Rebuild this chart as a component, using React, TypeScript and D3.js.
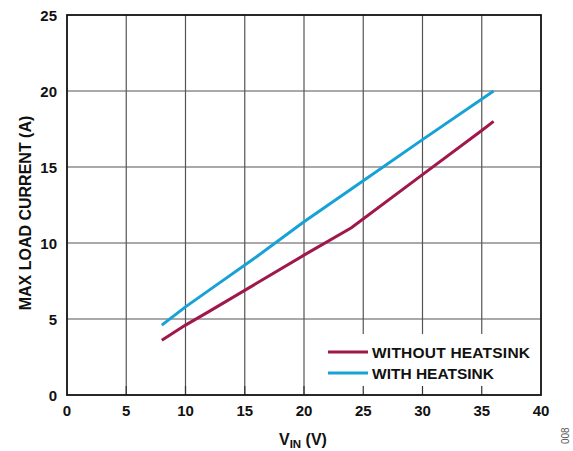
import React from "react";
import * as d3 from "d3";

const xTicks = [0, 5, 10, 15, 20, 25, 30, 35, 40];
const yTicks = [0, 5, 10, 15, 20, 25];

const withoutVin = [8, 10, 12, 16, 20, 24, 30, 35, 36];
const withoutAmp = [3.6, 4.6, 5.5, 7.35, 9.2, 11.0, 14.5, 17.4, 18.0];

const withVin = [8, 10, 12, 16, 20, 25, 30, 36];
const withAmp = [4.6, 5.8, 6.9, 9.1, 11.4, 14.1, 16.8, 20.0];

const seriesNames = ["WITHOUT HEATSINK", "WITH HEATSINK"];
const colors = ["#A0174B", "#16A2D4"];

const W = 573, H = 451;
const L = 67, R = 541, T = 15, B = 395;

export default function App() {
  const x = d3.scaleLinear().domain([0, 40]).range([L, R]);
  const y = d3.scaleLinear().domain([0, 25]).range([B, T]);
  const line = d3.line<[number, number]>().x(d => x(d[0])).y(d => y(d[1]));
  const s1 = line(withoutVin.map((v, i) => [v, withoutAmp[i]]) as [number, number][]) || "";
  const s2 = line(withVin.map((v, i) => [v, withAmp[i]]) as [number, number][]) || "";
  const font = "'Liberation Sans', Arial, sans-serif";
  const legX = 312, legY = 334;
  return (
    <svg width={W} height={H} style={{ position: "absolute", left: 0, top: 0, background: "#fff" }} fontFamily={font}>
      <rect x={0} y={0} width={W} height={H} fill="#fff" />
      {xTicks.slice(1, -1).map(t => (
        <line key={"gx" + t} x1={x(t)} x2={x(t)} y1={T} y2={B} stroke="#555" strokeWidth={1.2} />
      ))}
      {yTicks.slice(1, -1).map(t => (
        <line key={"gy" + t} x1={L} x2={R} y1={y(t)} y2={y(t)} stroke="#555" strokeWidth={1.2} />
      ))}
      <rect x={legX} y={legY} width={R - legX} height={B - legY} fill="#fff" />
      {xTicks.slice(1, -1).map(t => (
        <line key={"tx" + t} x1={x(t)} x2={x(t)} y1={B - 9} y2={B} stroke="#333" strokeWidth={1.2} />
      ))}
      <path d={s1} fill="none" stroke={colors[0]} strokeWidth={3} />
      <path d={s2} fill="none" stroke={colors[1]} strokeWidth={3} />
      <rect x={L} y={T} width={R - L} height={B - T} fill="none" stroke="#111" strokeWidth={1.8} />
      {xTicks.map(t => (
        <text key={"lx" + t} x={x(t)} y={416} textAnchor="middle" fontSize={15} fontWeight="bold" fill="#111">{t}</text>
      ))}
      {yTicks.map(t => (
        <text key={"ly" + t} x={57} y={y(t) + 6} textAnchor="end" fontSize={15} fontWeight="bold" fill="#111">{t}</text>
      ))}
      {seriesNames.map((n, i) => (
        <g key={n}>
          <line x1={328} x2={368} y1={352 + i * 21} y2={352 + i * 21} stroke={colors[i]} strokeWidth={3} />
          <text x={372} y={358 + i * 20.5} fontSize={15.5} fontWeight="bold" fill="#111" textLength={i === 0 ? 158 : undefined}>{n}</text>
        </g>
      ))}
      <text x={279} y={445} fontSize={16} fontWeight="bold" fill="#111">
        V<tspan fontSize={11.5} dy={3}>IN</tspan><tspan dy={-3}> (V)</tspan>
      </text>
      <text transform={`translate(31,213) rotate(-90)`} textAnchor="middle" fontSize={16} fontWeight="bold" fill="#111">MAX LOAD CURRENT (A)</text>
      <text transform={`translate(569,444) rotate(-90)`} fontSize={10} fill="#555">008</text>
    </svg>
  );
}
